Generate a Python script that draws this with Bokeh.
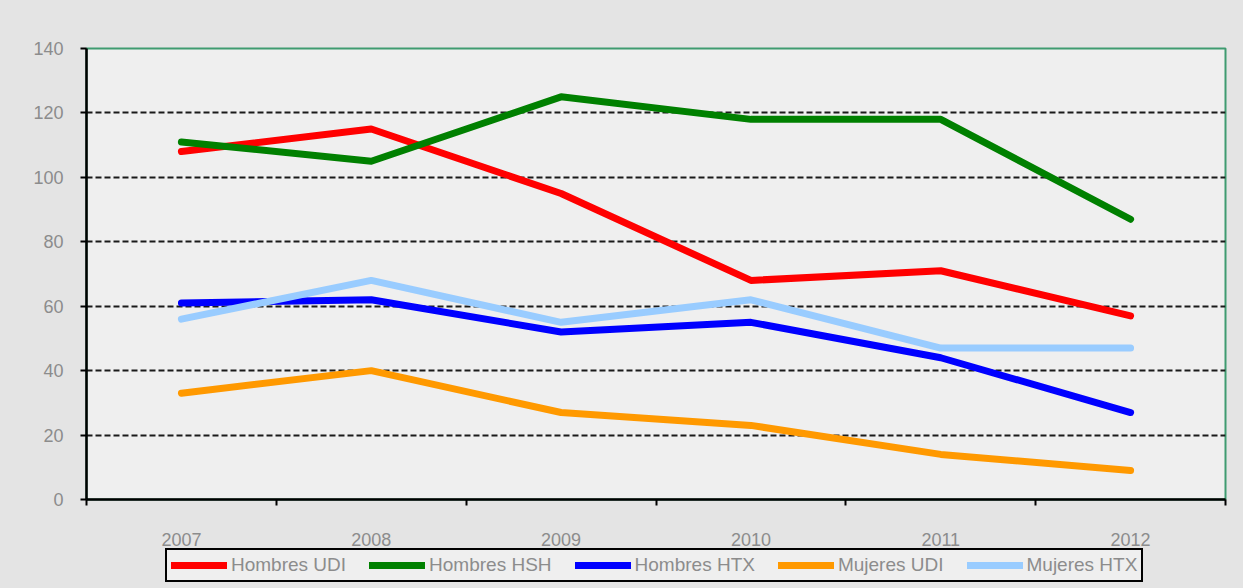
from bokeh.plotting import figure
from bokeh.models import FixedTicker, Legend, LegendItem, Range1d
from bokeh.layouts import column
from bokeh.embed import file_html
from bokeh.resources import INLINE

years = ["2007", "2008", "2009", "2010", "2011", "2012"]
hombres_udi = [108, 115, 95, 68, 71, 57]
hombres_hsh = [111, 105, 125, 118, 118, 87]
hombres_htx = [61, 62, 52, 55, 44, 27]
mujeres_udi = [33, 40, 27, 23, 14, 9]
mujeres_htx = [56, 68, 55, 62, 47, 47]
series_names = ["Hombres UDI", "Hombres HSH", "Hombres HTX", "Mujeres UDI", "Mujeres HTX"]
series_colors = ["#ff0000", "#008000", "#0000ff", "#ff9900", "#99ccff"]
y_ticks = [0, 20, 40, 60, 80, 100, 120, 140]

xs = list(range(len(years)))
all_series = [hombres_udi, hombres_hsh, hombres_htx, mujeres_udi, mujeres_htx]
LABEL = "#8c8c8c"
FONT = "Liberation Sans"
OUTER = "#e4e4e4"

p = figure(width=1243, height=548,
           x_range=Range1d(-0.5, len(years) - 0.5), y_range=Range1d(0, 140),
           output_backend="svg", toolbar_location=None,
           min_border_left=86, min_border_right=18, min_border_top=48, min_border_bottom=48)

p.background_fill_color = "#efefef"
p.border_fill_color = OUTER
p.outline_line_color = "#3f9b70"
p.outline_line_width = 2

# x axis: labels at category centers, boundary tick marks as minor ticks
p.xaxis.ticker = FixedTicker(ticks=xs, minor_ticks=[i - 0.5 for i in range(len(years) + 1)])
p.xaxis.major_label_overrides = {i: y for i, y in enumerate(years)}
p.xaxis.major_tick_out = 0
p.xaxis.major_tick_in = 0
p.xaxis.minor_tick_out = 6
p.xaxis.minor_tick_in = 0
p.xaxis.minor_tick_line_color = "black"
p.xaxis.minor_tick_line_width = 2
p.xaxis.axis_line_color = "black"
p.xaxis.axis_line_width = 2.5
p.xaxis.major_label_standoff = 27
p.xaxis.major_label_text_font_size = "18px"
p.xaxis.major_label_text_color = LABEL
p.xaxis.major_label_text_font = FONT

p.yaxis.ticker = FixedTicker(ticks=y_ticks)
p.yaxis.minor_tick_line_color = None
p.yaxis.major_tick_out = 6
p.yaxis.major_tick_in = 0
p.yaxis.major_tick_line_color = "black"
p.yaxis.major_tick_line_width = 2
p.yaxis.axis_line_color = "black"
p.yaxis.axis_line_width = 2.5
p.yaxis.major_label_standoff = 17
p.yaxis.major_label_text_font_size = "18px"
p.yaxis.major_label_text_color = LABEL
p.yaxis.major_label_text_font = FONT

p.xgrid.grid_line_color = None
p.ygrid.ticker = FixedTicker(ticks=y_ticks[1:-1])
p.ygrid.grid_line_color = "#1a1a1a"
p.ygrid.grid_line_width = 2
p.ygrid.grid_line_dash = "6 3"

for vals, col in zip(all_series, series_colors):
    p.line(xs, vals, line_color=col, line_width=7, line_cap="round", line_join="round")

# legend strip below the chart (its lines lie outside the visible range)
p2 = figure(width=1243, height=40, x_range=Range1d(-0.5, len(years) - 0.5),
            y_range=Range1d(1000, 1001), output_backend="svg", toolbar_location=None,
            x_axis_location=None, y_axis_location=None,
            min_border_left=0, min_border_right=0, min_border_top=0, min_border_bottom=0)
p2.background_fill_color = OUTER
p2.border_fill_color = OUTER
p2.outline_line_color = None
p2.grid.grid_line_color = None

items = []
for name, vals, col in zip(series_names, all_series, series_colors):
    r = p2.line(xs, vals, line_color=col, line_width=7, line_cap="round")
    items.append(LegendItem(label=name, renderers=[r]))

legend = Legend(items=items, orientation="horizontal", location=(79, 6),
                glyph_width=56, glyph_height=18, label_height=18, label_standoff=4,
                spacing=23, padding=4, margin=0,
                label_text_font_size="19px", label_text_color=LABEL, label_text_font=FONT,
                border_line_color="black", border_line_width=2.5, border_line_alpha=1,
                background_fill_color="#efefef", background_fill_alpha=1)
p2.add_layout(legend)

layout = column(p, p2, spacing=0)
layout.background = OUTER

open("out.html", "w").write(file_html(layout, INLINE))
